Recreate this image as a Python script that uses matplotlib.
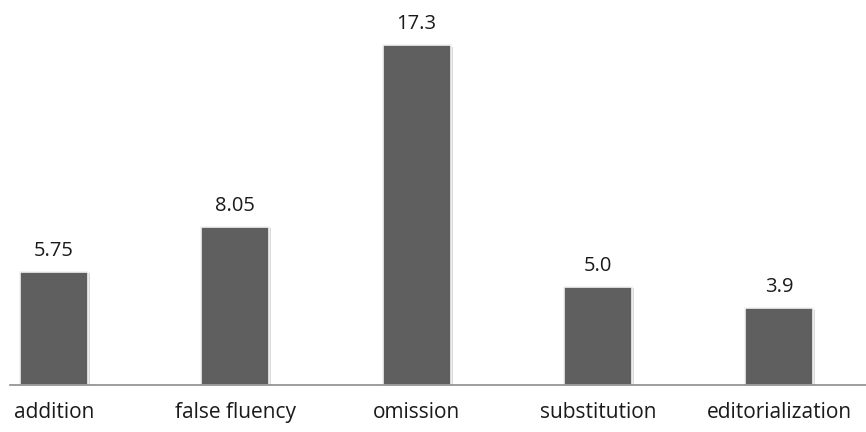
import matplotlib.pyplot as plt
import matplotlib.patheffects as pe

categories = ["addition", "false fluency", "omission", "substitution", "editorialization"]
values = [5.75, 8.05, 17.3, 5.0, 3.9]
value_labels = ["5.75", "8.05", "17.3", "5.0", "3.9"]

plt.rcParams['font.family'] = ['Open Sans', 'DejaVu Sans']

fig = plt.figure(figsize=(8.66, 4.32), dpi=100)
ax = fig.add_axes([10 / 866, 47 / 432, 856 / 866, 385 / 432])

x = range(len(categories))
bars = ax.bar(x, values, width=0.375, color='#5f5f5f', edgecolor='#f2f2f2', linewidth=1.2)
for b in bars:
    b.set_path_effects([pe.SimplePatchShadow(offset=(1.5, -1), shadow_rgbFace='#d0d0d0', alpha=0.8), pe.Normal()])

for xi, v, lab in zip(x, values, value_labels):
    ax.annotate(lab, (xi, v), xytext=(0, 8), textcoords='offset points',
                ha='center', va='bottom', fontsize=14.5, color='#1a1a1a')

ax.set_xlim(-0.243, 4.48)
ax.set_ylim(0, 19.6)
ax.set_xticks(list(x))
ax.set_xticklabels(categories, fontsize=15, color='#1a1a1a')
ax.tick_params(axis='x', length=0, pad=12)
ax.set_yticks([])
for s in ['top', 'right', 'left']:
    ax.spines[s].set_visible(False)
ax.spines['bottom'].set_color('#8c8c8c')
ax.spines['bottom'].set_linewidth(1.2)

fig.savefig('out.png', dpi=100)
